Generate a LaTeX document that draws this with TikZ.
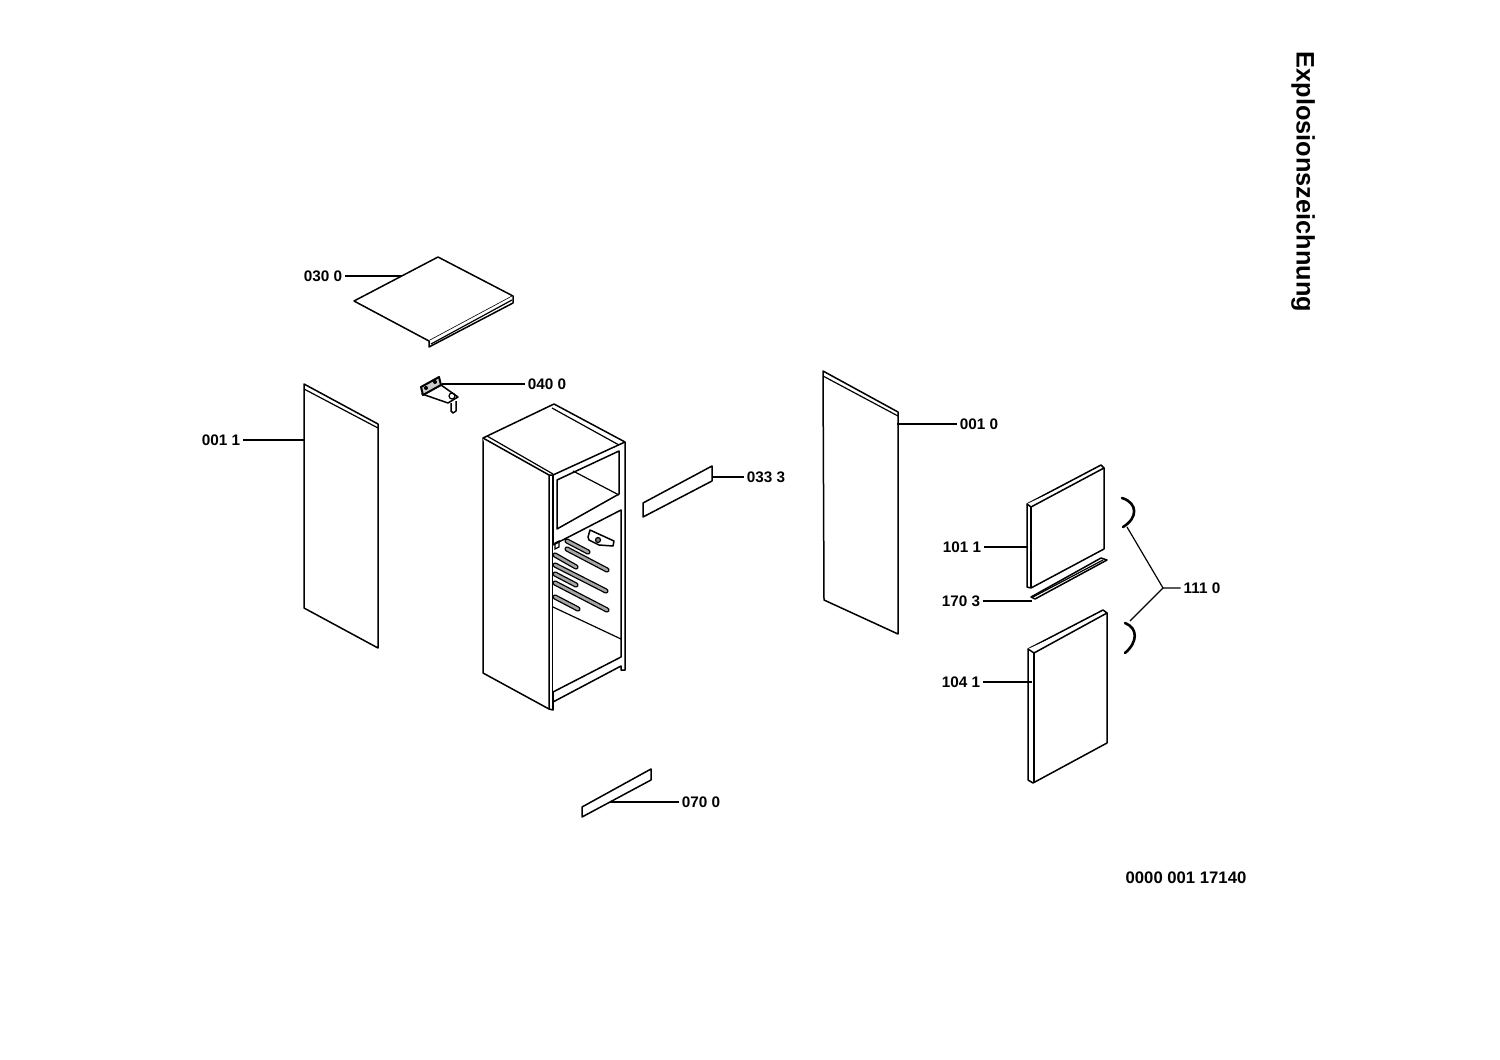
\documentclass[tikz,border=0pt]{standalone}
\usepackage{fontspec}
\setmainfont{Liberation Sans}
\tikzset{
    part/.style={line width=1.5pt, line join=round, fill=white},
    thin edge/.style={line width=1.2pt},
    leader/.style={line width=1.2pt},
    partno/.style={font=\fontsize{15.3}{16}\bfseries\selectfont, inner sep=3pt},
    shelf/.style={line width=1.3pt, double=gray!70, double distance=2.6pt, line cap=round},
    clamp/.style={line width=2.6pt, line cap=round},
}
\begin{document}
\begin{tikzpicture}[x=1pt,y=-1pt]
    \useasboundingbox (0,0) rectangle (1500,1060);
    % top cover
    \draw[part] (354,301) -- (438,257) -- (513,296) -- (429,341) -- cycle;
    \draw[part] (429,341) -- (429,347) -- (513,303) -- (513,296);
    \draw[thin edge] (431,344) -- (512,300);
    % left side panel
    \draw[part] (304,384) -- (378,424) -- (378,648) -- (304,608) -- cycle;
    \draw[thin edge] (304,389) -- (378,428);
    % right side panel
    \draw[part] (823,371) -- (898,412) -- (898,634) -- (824,600) -- cycle;
    \draw[thin edge] (823,376) -- (898,416);
    % hinge
    \draw[part] (441,385) -- (458,397) -- (448,403) -- (422,394) -- cycle;
    \draw[part, line width=2pt, fill=gray!40] (421,387) -- (439,377) -- (441,385) -- (423,395) -- cycle;
    \draw[part] (451,403) -- (451,411) -- (453,413) -- (456,411) -- (456,401);
    \draw[thin edge] (452,396) circle (3);
    \fill (426,388) circle (2);
    \fill (435,382) circle (2);
    % cabinet body
    \draw[part] (483,438) -- (554,404) -- (625,442) -- (625,670) -- (621,670) -- (621,666) -- (553,702) -- (553,710) -- (549,709) -- (483,673) -- cycle;
    \draw[part] (483,438) -- (549,475) -- (549,709);
    \draw[part] (549,475) -- (553,475) -- (625,442);
    \draw[part] (553,475) -- (553,710);
    \draw[thin edge] (487,436) -- (553,474);
    \draw[thin edge] (552,408) -- (619,445);
    % upper opening
    \draw[part] (557,480) -- (619,451) -- (619,494) -- (557,529) -- cycle;
    \draw[thin edge] (573,471) -- (619,495);
    % lower opening
    \draw[part] (553,545) -- (621,510) -- (621,657) -- (553,692);
    \draw[thin edge] (553,607) -- (621,639);
    % shelf rails
    \draw[shelf] (567,541) -- (588,552);
    \draw[shelf] (567,549) -- (607,570);
    \draw[shelf] (555,555) -- (576,567);
    \draw[shelf] (555,565) -- (606,591);
    \draw[shelf] (555,574) -- (576,585);
    \draw[shelf] (555,583) -- (607,610);
    \draw[shelf] (555,597) -- (578,609);
    \draw[thin edge] (555,543) -- (559,541) -- (559,547) -- (555,549) -- cycle;
    % small bracket in the cabinet
    \draw[part] (588,537) -- (590,530) -- (614,541) -- (613,546) -- (599,545) -- (589,540) -- cycle;
    \draw[thin edge, fill=gray] (598,540) circle (2.5);
    % panel 033
    \draw[part] (643,503) -- (712,466) -- (712,481) -- (643,517) -- cycle;
    % panel 070
    \draw[part] (582,807) -- (651,769) -- (651,780) -- (582,817) -- cycle;
    % upper door
    \draw[part] (1027,504) -- (1101,465) -- (1104,468) -- (1104,549) -- (1031,588) -- (1027,587) -- cycle;
    \draw[part] (1027,504) -- (1031,507) -- (1104,468);
    \draw[part] (1031,507) -- (1031,588);
    % rail 170
    \draw[part] (1031,597) -- (1101,558) -- (1107,560) -- (1035,599) -- cycle;
    \draw[thin edge] (1033,597) -- (1103,560);
    % lower door
    \draw[part] (1028,649) -- (1103,610) -- (1107,613) -- (1107,743) -- (1033,783) -- (1028,780) -- cycle;
    \draw[part] (1028,649) -- (1034,653) -- (1107,613);
    \draw[part, line width=1.8pt] (1034,653) -- (1034,783);
    % clamps
    \draw[clamp] (1122,498) .. controls (1138,503) and (1138,518) .. (1123,527);
    \draw[clamp] (1125,623) .. controls (1138,628) and (1138,642) .. (1125,653);
    % part numbers
    \node[partno] (n030) at (323,276) {030 0};
    \node[partno] (n040) at (547,384) {040 0};
    \node[partno] (n011) at (221,440) {001 1};
    \node[partno] (n333) at (766,477) {033 3};
    \node[partno] (n010) at (979,424) {001 0};
    \node[partno] (n101) at (962,547) {101 1};
    \node[partno] (n170) at (961,601) {170 3};
    \node[partno] (n111) at (1202,588) {111 0};
    \node[partno] (n104) at (961,682) {104 1};
    \node[partno] (n070) at (701,802) {070 0};
    \node[font=\fontsize{16.7}{17}\bfseries\selectfont, inner sep=0pt] (ndoc) at (1186,877.5) {0000 001 17140};
    \node[font=\fontsize{25.3}{26}\bfseries\selectfont, rotate=-90, inner sep=0pt] (title) at (1303,182) {Explosionszeichnung};
    % leader ends
    \coordinate (t030) at (402,276);
    \coordinate (t040) at (442,384);
    \coordinate (t011) at (304,440);
    \coordinate (t333) at (712,477);
    \coordinate (t010) at (897,424);
    \coordinate (t101) at (1028,547);
    \coordinate (t170) at (1032,601);
    \coordinate (t104) at (1032,682);
    \coordinate (t070) at (610,802);
    \coordinate (fork) at (1163,588);
    \coordinate (tup) at (1127,527);
    \coordinate (tlow) at (1130,621);
    % leaders
    \draw[leader] (n030) -- (t030);
    \draw[leader] (n040) -- (t040);
    \draw[leader] (n011) -- (t011);
    \draw[leader] (n333) -- (t333);
    \draw[leader] (n010) -- (t010);
    \draw[leader] (n101) -- (t101);
    \draw[leader] (n170) -- (t170);
    \draw[leader] (n104) -- (t104);
    \draw[leader] (n070) -- (t070);
    \draw[leader] (n111) -- (fork) -- (tup);
    \draw[leader] (fork) -- (tlow);
\end{tikzpicture}
\end{document}
